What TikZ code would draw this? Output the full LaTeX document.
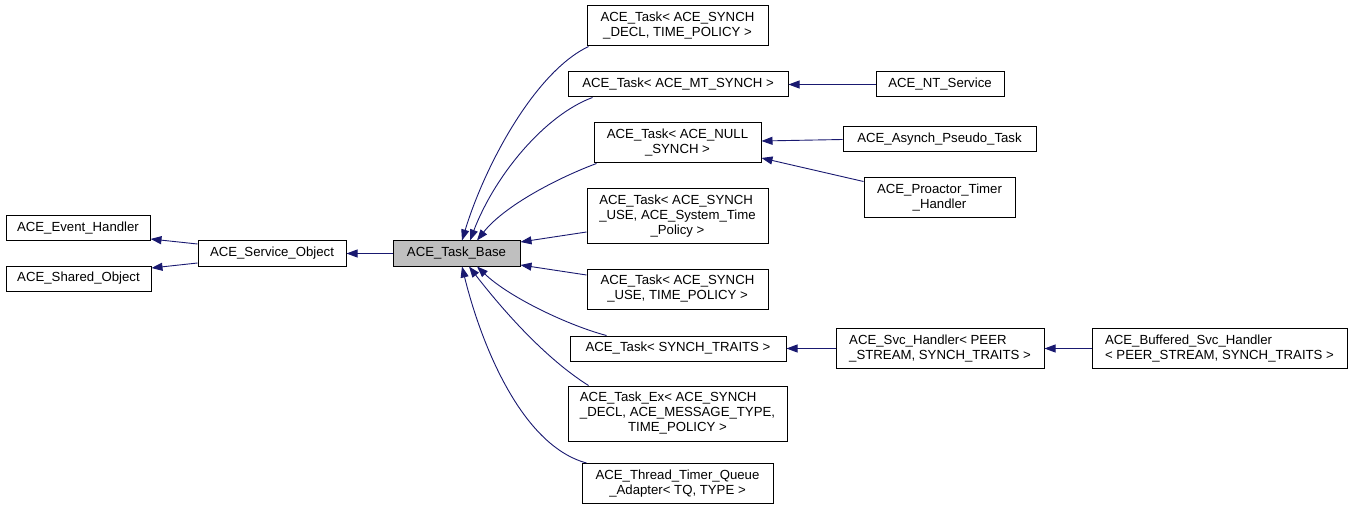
\documentclass[tikz,border=0pt]{standalone}
\usepackage{fontspec}
\setmainfont{Liberation Sans}
\usetikzlibrary{arrows.meta}
\definecolor{edgeblue}{HTML}{191970}
\definecolor{basegray}{HTML}{BFBFBF}
\tikzset{
  cls/.style={draw=black, line width=1pt, fill=white, inner sep=0pt, font=\fontsize{13.2}{15}\selectfont},
  edge/.style={draw=edgeblue, line width=0.9pt, -{Triangle[length=11pt,width=8pt]}}
}
\newcommand{\lns}[1]{\begin{tabular}{@{}l@{}}#1\end{tabular}}
\newcommand{\lastc}[1]{\multicolumn{1}{@{}c@{}}{#1}}
\begin{document}
\begin{tikzpicture}[x=1pt,y=-1pt]
\useasboundingbox (0,0) rectangle (1352,513);
% nodes
\node[cls, minimum width=144, minimum height=25] (eh) at (78,228.5) {ACE\_Event\_Handler};
\node[cls, minimum width=145, minimum height=25] (so) at (78.5,278.5) {ACE\_Shared\_Object};
\node[cls, minimum width=148, minimum height=25] (svc) at (272,253.5) {ACE\_Service\_Object};
\node[cls, fill=basegray, minimum width=127, minimum height=25] (tb) at (456.5,253.5) {ACE\_Task\_Base};
\node[cls, minimum width=181, minimum height=40] (t1) at (677.5,26) {\lns{ACE\_Task< ACE\_SYNCH\\ \lastc{\_DECL, TIME\_POLICY >}}};
\node[cls, minimum width=220, minimum height=25] (t2) at (678,84.5) {ACE\_Task< ACE\_MT\_SYNCH >};
\node[cls, minimum width=128, minimum height=25] (nt) at (940,84.5) {ACE\_NT\_Service};
\node[cls, minimum width=167, minimum height=40] (t3) at (677.5,143) {\lns{ACE\_Task< ACE\_NULL\\ \lastc{\_SYNCH >}}};
\node[cls, minimum width=193, minimum height=25] (ap) at (939.5,139.5) {ACE\_Asynch\_Pseudo\_Task};
\node[cls, minimum width=151, minimum height=40] (pt) at (939.5,198) {\lns{ACE\_Proactor\_Timer\\ \lastc{\_Handler}}};
\node[cls, minimum width=181, minimum height=55] (t4) at (677.5,216.5) {\lns{ACE\_Task< ACE\_SYNCH\\ \_USE, ACE\_System\_Time\\ \lastc{\_Policy >}}};
\node[cls, minimum width=181, minimum height=40] (t5) at (677.5,289) {\lns{ACE\_Task< ACE\_SYNCH\\ \lastc{\_USE, TIME\_POLICY >}}};
\node[cls, minimum width=216, minimum height=25] (t6) at (678,348.5) {ACE\_Task< SYNCH\_TRAITS >};
\node[cls, minimum width=208, minimum height=40] (sh) at (940,348.5) {\lns{ACE\_Svc\_Handler< PEER\\ \lastc{\_STREAM, SYNCH\_TRAITS >}}};
\node[cls, minimum width=255, minimum height=40] (bs) at (1219.5,348.5) {\lns{ACE\_Buffered\_Svc\_Handler\\ \lastc{< PEER\_STREAM, SYNCH\_TRAITS >}}};
\node[cls, minimum width=219, minimum height=55] (tx) at (677.5,413.5) {\lns{ACE\_Task\_Ex< ACE\_SYNCH\\ \_DECL, ACE\_MESSAGE\_TYPE,\\ \lastc{TIME\_POLICY >}}};
\node[cls, minimum width=191, minimum height=40] (tq) at (677.5,483.5) {\lns{ACE\_Thread\_Timer\_Queue\\ \lastc{\_Adapter< TQ, TYPE >}}};
% edges
\draw[edge] ([yshift=9.5pt]svc.west) -- ([yshift=-10.5pt]eh.east);
\draw[edge] ([yshift=-9.5pt]svc.west) -- ([yshift=10.5pt]so.east);
\draw[edge] (tb.west) -- (svc.east);
\draw[edge] ([xshift=2pt]t1.south west) .. controls (535,72) and (485,165) .. ([xshift=5.5pt]tb.north);
\draw[edge] ([xshift=25pt]t2.south west) .. controls (545,115) and (495,175) .. ([xshift=13.5pt]tb.north);
\draw[edge] ([xshift=3pt]t3.south west) .. controls (560,177) and (505,205) .. ([xshift=20.5pt]tb.north);
\draw[edge] ([yshift=-15.5pt]t4.west) -- ([yshift=11.5pt]tb.east);
\draw[edge] ([yshift=14pt]t5.west) -- ([yshift=-11.5pt]tb.east);
\draw[edge] ([xshift=37pt]t6.north west) .. controls (570,326) and (510,298) .. ([xshift=20.5pt]tb.south);
\draw[edge] ([xshift=21pt]tx.north west) .. controls (540,355) and (495,300) .. ([xshift=12.5pt]tb.south);
\draw[edge] ([xshift=5pt]tq.north west) .. controls (520,445) and (480,340) .. ([xshift=5.5pt]tb.south);
\draw[edge] (nt.west) -- (t2.east);
\draw[edge] (ap.west) -- ([yshift=2pt]t3.east);
\draw[edge] ([yshift=-4pt]pt.north west) -- ([yshift=-15pt]t3.east);
\draw[edge] (sh.west) -- (t6.east);
\draw[edge] (bs.west) -- (sh.east);
\end{tikzpicture}
\end{document}
